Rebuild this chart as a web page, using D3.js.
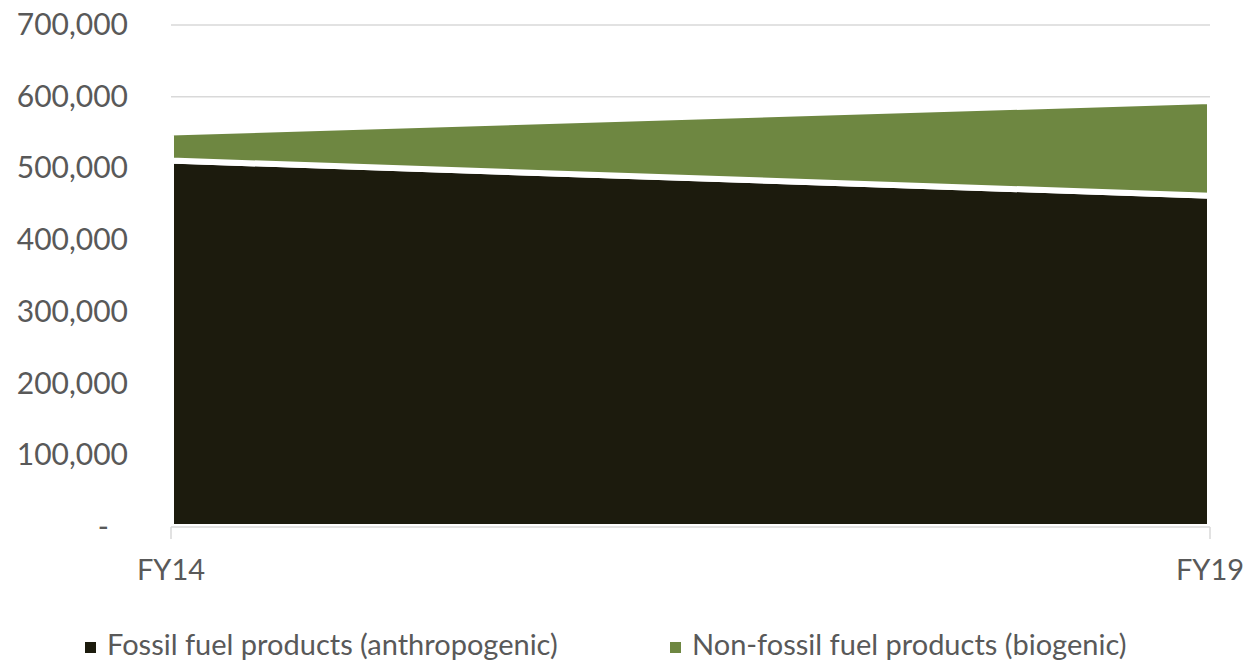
<!DOCTYPE html>
<html><head><meta charset="utf-8">
<script src="https://cdn.jsdelivr.net/npm/d3@7"></script>
<style>body{margin:0;background:#fff;} text{font-family:Lato,"Open Sans",sans-serif;fill:#595959;}</style>
</head><body><svg id="c" width="1258" height="671"></svg>
<script>
const categories = ["FY14", "FY19"];
const fossil = [511000, 462000];
const biogenic = [39000, 132000];
const seriesNames = ["Fossil fuel products (anthropogenic)", "Non-fossil fuel products (biogenic)"];
const seriesColors = ["#1c1b0d", "#6e8741"];
const yTicks = [0, 100000, 200000, 300000, 400000, 500000, 600000, 700000];

const svg = d3.select("#c");
const x = d3.scalePoint().domain(categories).range([171, 1210]);
const y = d3.scaleLinear().domain([0, 700000]).range([527, 25]);

// gridlines
svg.append("g").selectAll("line").data(yTicks.filter(d => d > 0)).join("line")
  .attr("x1", 171).attr("x2", 1210).attr("y1", d => y(d)).attr("y2", d => y(d))
  .attr("stroke", "#d9d9d9").attr("stroke-width", 1.5);

const rows = categories.map((c, i) => ({cat: c, fossil: fossil[i], biogenic: biogenic[i]}));
const stack = d3.stack().keys(["fossil", "biogenic"])(rows);
const area = d3.area().x(d => x(d.data.cat)).y0(d => y(d[0])).y1(d => y(d[1]));
svg.append("g").selectAll("path").data(stack).join("path")
  .attr("d", area).attr("fill", (d, i) => seriesColors[i])
  .attr("stroke", "#fff").attr("stroke-width", 6).attr("stroke-linejoin", "miter");

// x axis
const xAxis = svg.append("g");
xAxis.append("line").attr("x1", 171).attr("x2", 1210).attr("y1", 527).attr("y2", 527)
  .attr("stroke", "#d9d9d9").attr("stroke-width", 1.5);
xAxis.selectAll("line.tick").data(categories).join("line").attr("class", "tick")
  .attr("x1", d => x(d)).attr("x2", d => x(d)).attr("y1", 527).attr("y2", 539)
  .attr("stroke", "#d9d9d9").attr("stroke-width", 1.5);
xAxis.selectAll("text").data(categories).join("text")
  .attr("x", d => x(d)).attr("y", 580).attr("text-anchor", "middle")
  .attr("font-size", 29).text(d => d);

// y labels
const fmt = d3.format(",");
svg.append("g").selectAll("text").data(yTicks).join("text")
  .attr("x", 128).attr("y", d => y(d) + 10).attr("text-anchor", d => d === 0 ? "end" : "end")
  .attr("font-size", 30).text(d => d === 0 ? "-" : fmt(d))
  .attr("dx", d => d === 0 ? -19 : 0);

// legend
const legendX = [85, 670];
const lg = svg.append("g").selectAll("g").data(seriesNames).join("g")
  .attr("transform", (d, i) => `translate(${legendX[i]},0)`);
lg.append("rect").attr("x", 0).attr("y", 642).attr("width", 11).attr("height", 11)
  .attr("fill", (d, i) => seriesColors[i]);
lg.append("text").attr("x", 22).attr("y", 655).attr("font-size", 29).text(d => d);
</script></body></html>
